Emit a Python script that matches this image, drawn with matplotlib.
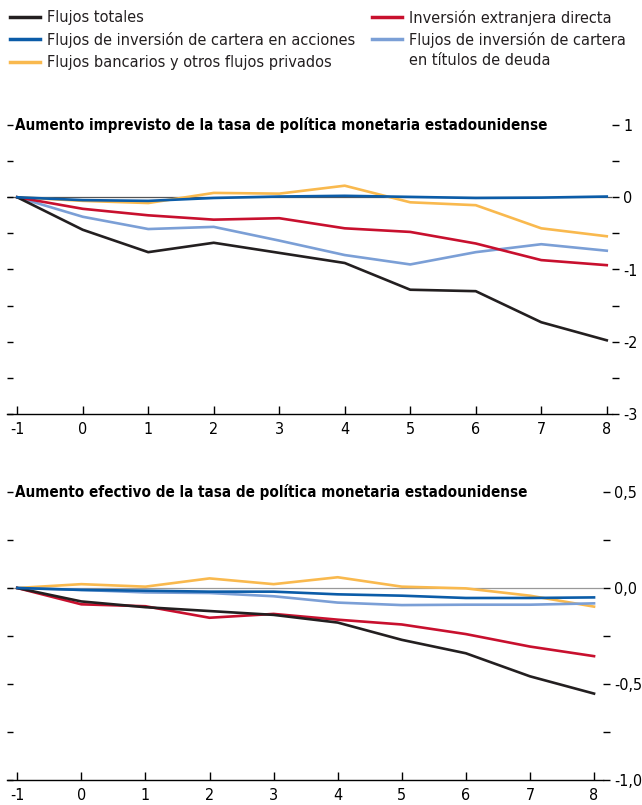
import numpy as np
import matplotlib
matplotlib.use("Agg")
import matplotlib.pyplot as plt
from matplotlib.lines import Line2D
from matplotlib import font_manager

# pick a condensed face if one is installed (reference uses a narrow sans)
FAM, STRETCH, SCALE = "DejaVu Sans", "normal", 0.82
for f in font_manager.fontManager.ttflist:
    if f.name == "Liberation Sans Narrow":
        FAM, STRETCH, SCALE = f.name, "normal", 1.0
        break
else:
    for f in font_manager.fontManager.ttflist:
        if f.name == "DejaVu Sans" and "ondensed" in str(f.stretch) + f.fname:
            FAM, STRETCH, SCALE = "DejaVu Sans", "condensed", 0.92
            break
plt.rcParams['font.family'] = [FAM, 'DejaVu Sans']
plt.rcParams['font.stretch'] = STRETCH

# horizon (quarters)
x = [-1, 0, 1, 2, 3, 4, 5, 6, 7, 8]

# panel 1: unexpected increase
top_total = [0, -0.45, -0.76, -0.63, -0.77, -0.91, -1.28, -1.30, -1.73, -1.98]
top_fdi = [0, -0.16, -0.25, -0.31, -0.29, -0.43, -0.48, -0.64, -0.87, -0.94]
top_bank = [0, -0.05, -0.08, 0.06, 0.05, 0.16, -0.07, -0.11, -0.43, -0.54]
top_equity = [0, -0.04, -0.05, -0.01, 0.01, 0.02, 0.005, -0.01, -0.005, 0.01]
top_debt = [0, -0.27, -0.44, -0.41, -0.60, -0.80, -0.93, -0.76, -0.65, -0.74]

# panel 2: effective increase
bot_total = [0, -0.07, -0.10, -0.12, -0.14, -0.18, -0.27, -0.34, -0.46, -0.55]
bot_fdi = [0, -0.085, -0.095, -0.155, -0.135, -0.165, -0.19, -0.24, -0.305, -0.355]
bot_bank = [0, 0.02, 0.007, 0.05, 0.02, 0.056, 0.007, -0.002, -0.04, -0.097]
bot_equity = [0, -0.01, -0.014, -0.019, -0.019, -0.033, -0.04, -0.052, -0.052, -0.049]
bot_debt = [0, -0.01, -0.023, -0.026, -0.043, -0.076, -0.089, -0.087, -0.087, -0.08]

labels = ["Flujos totales", "Flujos de inversión de cartera en acciones",
          "Flujos bancarios y otros flujos privados", "Inversión extranjera directa",
          "Flujos de inversión de cartera\nen títulos de deuda"]
C_TOTAL = "#231f20"
C_EQ = "#0b5ca8"
C_BANK = "#f9b94e"
C_FDI = "#c8102e"
C_DEBT = "#7b9fd6"
colors = [C_TOTAL, C_EQ, C_BANK, C_FDI, C_DEBT]

FS = 12.5 * SCALE

fig = plt.figure(figsize=(6.42, 8.05), dpi=100)
W, H = 642, 805


def make_panel(rect, ylim, ystep, ylab_fmt, xlim, title, series, zero_color):
    l, r, t, b = rect
    ax = fig.add_axes([l / W, 1 - b / H, (r - l) / W, (b - t) / H])
    ax.axhline(0, color=zero_color, lw=0.9, zorder=1)
    for vals, col in series:
        ax.plot(x, vals, color=col, lw=1.9, solid_joinstyle="round", zorder=3)
    ax.set_xlim(*xlim)
    ax.set_ylim(*ylim)
    for s in ["top", "right", "left"]:
        ax.spines[s].set_visible(False)
    ax.spines["bottom"].set_linewidth(1.0)
    ax.set_xticks(x)
    ax.set_xticklabels([str(v) for v in x], fontsize=FS)
    ax.tick_params(axis="x", direction="in", length=6, width=1, pad=6)
    yt = np.arange(ylim[0], ylim[1] + 1e-9, ystep)
    ax.set_yticks(yt)
    ax.set_yticklabels([])
    ax.tick_params(axis="y", direction="in", length=4, width=1, left=True, right=False)
    ax2 = ax.twinx()
    ax2.set_ylim(*ylim)
    for s in ax2.spines.values():
        s.set_visible(False)
    ax2.set_yticks(yt)
    ax2.set_yticklabels([ylab_fmt(v) for v in yt], fontsize=FS)
    ax2.tick_params(axis="y", direction="out", length=5, width=1, pad=3)
    ax.text(xlim[0] + 0.12, ylim[1], title, fontsize=FS * 0.95, fontweight="bold",
            ha="left", va="center")
    return ax


def fmt_int(v):
    if abs(v - round(v)) < 1e-9:
        return "%d" % round(v)
    return ""


def fmt_half(v):
    k = round(v / 0.25)
    if k % 2 == 0:
        return ("%.1f" % v).replace(".", ",")
    return ""


make_panel((7, 612, 125, 414), (-3, 1), 0.5, fmt_int, (-1.156, 8.08),
           "Aumento imprevisto de la tasa de política monetaria estadounidense",
           [(top_bank, C_BANK), (top_debt, C_DEBT), (top_fdi, C_FDI),
            (top_total, C_TOTAL), (top_equity, C_EQ)], "#555555")

make_panel((7, 603, 492, 780), (-1.0, 0.5), 0.25, fmt_half, (-1.16, 8.14),
           "Aumento efectivo de la tasa de política monetaria estadounidense",
           [(bot_bank, C_BANK), (bot_debt, C_DEBT), (bot_fdi, C_FDI),
            (bot_total, C_TOTAL), (bot_equity, C_EQ)], "#999999")

# legend, drawn by hand so the two-line entry keeps its key on the first line
ROW = 22.5
LFS = FS * 1.02
line_px = LFS * 100 / 72
legend_slots = [(10, 0), (10, 1), (10, 2), (372, 0), (372, 1)]
for (x0, row), lab, col in zip(legend_slots, labels, colors):
    yc = 17 + ROW * row
    fig.add_artist(Line2D([x0 / W, (x0 + 30) / W], [1 - yc / H] * 2,
                          color=col, lw=2.5, transform=fig.transFigure))
    fig.text((x0 + 37) / W, 1 - (yc - 0.45 * line_px) / H, lab, fontsize=LFS,
             ha="left", va="top", linespacing=ROW / line_px, color="#231f20")

fig.savefig("out.png", dpi=100, facecolor="white")
